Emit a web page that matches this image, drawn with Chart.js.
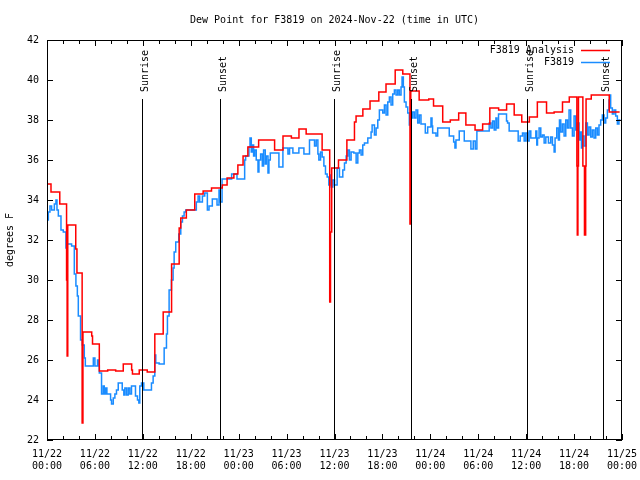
<!DOCTYPE html>
<html>
<head>
<meta charset="utf-8">
<title>Dew Point for F3819</title>
<script src="https://cdn.jsdelivr.net/npm/chart.js@4.4.1/dist/chart.umd.min.js"></script>
<style>
  html, body { margin: 0; padding: 0; background: #fff; }
</style>
</head>
<body>
<canvas id="dewChart" width="640" height="480"></canvas>
<script>
// hours since 2024-11-22 00:00 UTC, dew point in degrees F
const analysisHours = [0, 0.5, 1.6, 2.45, 2.52, 2.6, 3.6, 3.75, 4.4, 4.5,
  5.6, 5.7, 6.55, 7.6, 8.6, 9.55, 10.6, 10.7, 11.55, 12.55,
  13.5, 14.55, 15.6, 16.55, 16.75, 17.45, 18.5, 19.55, 20.6, 21.95,
  22.55, 23.4, 23.9, 24.55, 25.15, 26.5, 28.5, 29.55, 30.6, 31.55,
  32.45, 34.45, 35.4, 35.5, 35.65, 36.5, 37.55, 38.5, 38.7, 39.55,
  40.45, 41.55, 42.45, 43.6, 44.55, 45.45, 45.55, 46.6, 47.8, 48.4,
  49.55, 50.5, 51.55, 52.45, 53.6, 54.55, 55.45, 56.55, 57.55, 58.5,
  59.45, 60.4, 61.4, 62.55, 63.5, 64.55, 65.4, 66.35, 66.4, 66.48,
  66.55, 67.1, 67.3, 67.45, 67.5, 68.15, 70.4, 71.7];
const analysisValues = [34.8, 34.4, 33.8, 30.0, 26.2, 32.75, 31.55, 30.35, 22.85, 27.4,
  27.2, 26.8, 25.45, 25.5, 25.45, 25.8, 25.5, 25.3, 25.5, 25.4,
  27.3, 28.4, 30.8, 32.6, 33.1, 33.5, 34.3, 34.45, 34.6, 34.75,
  35.1, 35.3, 35.75, 36.2, 36.65, 37.0, 36.5, 37.2, 37.1, 37.55,
  37.3, 36.5, 28.9, 32.4, 35.6, 36.0, 37.0, 37.9, 38.2, 38.55,
  38.95, 39.4, 39.8, 40.5, 40.3, 32.8, 39.45, 39.0, 39.05, 38.7,
  37.9, 38.0, 38.35, 37.75, 37.5, 37.8, 38.6, 38.5, 38.8, 38.25,
  37.9, 38.15, 38.9, 38.35, 38.4, 38.9, 39.15, 35.7, 32.25, 35.7,
  39.15, 35.7, 32.25, 35.7, 39.05, 39.25, 38.4, 38.4];

const stationHours = [0, 0.17, 0.37, 0.58, 0.92, 1.12, 1.25, 1.42, 1.75, 2.04,
  2.37, 2.5, 3.08, 3.42, 3.62, 3.8, 3.92, 4.2, 4.42, 4.67,
  4.8, 5.8, 6.0, 6.33, 6.42, 6.55, 6.83, 7.04, 7.17, 7.33,
  7.5, 7.96, 8.08, 8.3, 8.5, 8.7, 8.92, 9.42, 9.62, 9.75,
  9.96, 10.17, 10.37, 10.58, 11.08, 11.33, 11.5, 11.62, 11.83, 12.12,
  13.08, 13.29, 13.5, 13.62, 14.04, 14.67, 14.96, 15.08, 15.29, 15.58,
  15.79, 15.92, 16.12, 16.5, 16.75, 16.96, 17.17, 17.37, 18.7, 18.92,
  19.12, 19.46, 19.75, 20.08, 20.29, 20.7, 21.29, 21.54, 21.67, 21.92,
  23.12, 23.79, 24.75, 24.87, 25.29, 25.42, 25.58, 25.7, 25.87, 26.0,
  26.2, 26.42, 26.54, 26.75, 26.96, 27.12, 27.33, 27.46, 27.67, 27.79,
  27.96, 29.04, 29.54, 30.17, 30.37, 30.79, 31.54, 32.17, 32.87, 33.5,
  33.71, 33.92, 34.04, 34.25, 34.46, 34.67, 34.87, 35.08, 35.29, 35.46,
  35.58, 35.79, 36.0, 36.33, 36.62, 37.04, 37.25, 37.46, 37.67, 37.87,
  38.08, 38.42, 38.71, 38.92, 39.12, 39.33, 39.54, 39.75, 40.17, 40.58,
  40.71, 41.0, 41.21, 41.42, 41.62, 42.04, 42.25, 42.46, 42.67, 42.87,
  43.08, 43.29, 43.5, 43.71, 43.92, 44.12, 44.33, 44.46, 44.62, 44.75,
  44.96, 45.17, 45.37, 45.58, 45.79, 46.0, 46.21, 46.42, 46.62, 46.83,
  47.37, 47.67, 48.08, 48.21, 48.29, 48.71, 48.92, 50.37, 50.92, 51.08,
  51.21, 51.62, 52.25, 53.08, 53.37, 53.62, 53.83, 55.37, 55.58, 55.79,
  56.0, 56.21, 56.33, 56.54, 57.54, 57.67, 57.87, 59.0, 59.25, 59.54,
  59.75, 59.96, 60.17, 60.37, 60.58, 61.21, 61.33, 61.42, 61.62, 61.83,
  62.04, 62.25, 62.46, 62.79, 63.08, 63.29, 63.5, 63.62, 63.83, 64.04,
  64.17, 64.33, 64.54, 64.75, 64.96, 65.17, 65.37, 65.58, 65.79, 66.0,
  66.21, 66.42, 66.62, 66.75, 66.92, 67.04, 67.25, 67.46, 67.67, 67.87,
  68.08, 68.29, 68.5, 68.71, 68.92, 69.12, 69.33, 69.54, 69.75, 69.96,
  70.17, 70.37, 70.5, 70.58, 70.79, 71.0, 71.21, 71.42, 71.62, 71.8];
const stationValues = [33.0, 33.4, 33.7, 33.5, 33.8, 34.0, 33.5, 33.2, 32.5, 32.4,
  31.6, 31.8, 31.7, 30.3, 29.7, 29.2, 28.2, 27.0, 26.75, 26.1,
  25.7, 26.1, 25.7, 26.0, 25.7, 25.35, 24.3, 24.7, 24.3, 24.6,
  24.3, 24.0, 23.8, 24.1, 24.3, 24.5, 24.85, 24.5, 24.25, 24.6,
  24.25, 24.6, 24.3, 24.7, 24.2, 24.0, 23.85, 24.7, 24.85, 24.5,
  24.85, 25.2, 26.25, 25.85, 25.8, 26.6, 27.3, 28.2, 29.5, 30.0,
  30.6, 31.4, 31.9, 32.3, 32.9, 33.2, 33.4, 33.5, 33.9, 34.2,
  33.9, 34.2, 34.35, 33.5, 33.7, 34.05, 33.75, 34.5, 33.9, 35.05,
  35.3, 35.05, 36.0, 36.2, 36.65, 37.1, 36.4, 36.75, 36.2, 36.5,
  36.0, 35.4, 36.0, 36.3, 35.7, 36.5, 35.8, 36.2, 35.35, 36.0,
  36.35, 35.65, 36.6, 36.3, 36.6, 36.35, 36.6, 36.3, 37.0, 36.7,
  37.0, 36.3, 36.0, 36.4, 36.15, 35.7, 35.3, 35.15, 34.75, 35.25,
  34.65, 35.0, 34.75, 35.6, 35.15, 35.5, 35.85, 36.2, 36.5, 36.0,
  36.4, 36.35, 35.85, 36.35, 36.5, 36.25, 36.75, 36.85, 37.1, 37.4,
  37.75, 37.25, 37.6, 38.0, 38.5, 38.35, 38.75, 38.25, 38.9, 39.15,
  38.75, 39.3, 39.5, 39.25, 39.5, 39.25, 39.65, 40.15, 39.65, 38.9,
  38.65, 38.35, 37.75, 38.1, 38.4, 38.1, 38.5, 37.85, 38.25, 37.8,
  37.35, 37.65, 38.1, 37.7, 37.35, 37.2, 37.6, 37.2, 36.9, 36.6,
  37.0, 37.45, 36.95, 36.55, 36.95, 36.55, 37.45, 37.85, 37.6, 37.95,
  37.5, 38.1, 37.6, 38.3, 37.95, 37.85, 37.45, 36.95, 37.2, 37.35,
  36.95, 37.35, 36.95, 37.45, 37.1, 37.45, 36.75, 37.1, 37.6, 37.15,
  37.25, 36.85, 37.15, 36.85, 37.15, 36.75, 36.4, 37.1, 37.6, 37.0,
  38.0, 37.4, 37.8, 37.2, 38.0, 37.6, 38.5, 37.6, 37.2, 38.2,
  37.5, 37.85, 37.0, 37.4, 36.6, 37.2, 36.7, 37.85, 37.25, 37.65,
  37.15, 37.5, 37.1, 37.6, 37.25, 37.75, 38.0, 38.25, 37.85, 38.1,
  38.5, 39.0, 39.25, 38.6, 38.3, 38.5, 38.2, 37.8, 38.0, 38.0];

const sunriseHours = [11.9, 35.94, 60.05];
const sunsetHours = [21.7, 45.58, 69.66];

// tick labels
const dayLabels = ['11/22', '11/23', '11/24', '11/25'];
const hourLabels = ['00:00', '06:00', '12:00', '18:00'];

const FONT = "'DejaVu Sans Mono', 'Liberation Mono', monospace";
const RED = '#ff0000';
const BLUE = '#1a8cff';

window.onload = init;

function init(){
    Chart.defaults.font.family = FONT;
    Chart.defaults.font.size = 10;
    Chart.defaults.color = '#000';

    const toPoints = (hrs, vals) => hrs.map((h, i) => ({x: h, y: vals[i]}));

    // gnuplot-like frame, inward ticks, title, legend, sun lines
    const decorations = {
        id: 'decorations',
        afterDatasetsDraw(chart){
            const ctx = chart.ctx;
            const a = chart.chartArea;
            const xs = chart.scales.x, ys = chart.scales.y;
            ctx.save();
            ctx.strokeStyle = '#000';
            ctx.lineWidth = 1;

            // sunrise / sunset markers
            ctx.font = '10px ' + FONT;
            ctx.fillStyle = '#000';
            const marker = (h, txt) => {
                const px = Math.round(xs.getPixelForValue(h)) + 0.5;
                ctx.beginPath();
                ctx.moveTo(px, a.top + 59);
                ctx.lineTo(px, a.bottom);
                ctx.stroke();
                ctx.save();
                ctx.translate(px + 2.5, a.top + 52);
                ctx.rotate(-Math.PI / 2);
                ctx.textAlign = 'left';
                ctx.textBaseline = 'middle';
                ctx.fillText(txt, 0, 0);
                ctx.restore();
            };
            sunriseHours.forEach(h => marker(h, 'Sunrise'));
            sunsetHours.forEach(h => marker(h, 'Sunset'));

            // frame
            ctx.strokeRect(a.left + 0.5, a.top + 0.5, a.width - 1, a.height - 1);

            // x ticks every 2 h, longer every 6 h, top and bottom
            ctx.beginPath();
            for (let h = 0; h <= 72; h += 2){
                const px = Math.round(xs.getPixelForValue(h)) + 0.5;
                const len = (h % 6 === 0) ? 6 : 4;
                ctx.moveTo(px, a.bottom); ctx.lineTo(px, a.bottom - len);
                ctx.moveTo(px, a.top); ctx.lineTo(px, a.top + len);
            }
            // y ticks, left and right
            for (let v = 22; v <= 42; v += 2){
                const py = Math.round(ys.getPixelForValue(v)) + 0.5;
                ctx.moveTo(a.left, py); ctx.lineTo(a.left + 6, py);
                ctx.moveTo(a.right, py); ctx.lineTo(a.right - 6, py);
            }
            ctx.stroke();

            // legend, top right inside the frame
            ctx.textAlign = 'right';
            ctx.textBaseline = 'middle';
            chart.data.datasets.forEach((ds, i) => {
                const ly = a.top + 10 + i * 12;
                ctx.fillStyle = '#000';
                ctx.fillText(ds.label, a.right - 48, ly);
                ctx.strokeStyle = ds.borderColor;
                ctx.lineWidth = 1.5;
                ctx.beginPath();
                ctx.moveTo(a.right - 41, ly + 0.5);
                ctx.lineTo(a.right - 12, ly + 0.5);
                ctx.stroke();
            });

            // title
            ctx.fillStyle = '#000';
            ctx.textAlign = 'center';
            ctx.fillText('Dew Point for F3819 on 2024-Nov-22 (time in UTC)', (a.left + a.right) / 2, 20);
            ctx.restore();
        }
    };

    const config = {
        type: 'line',
        data: {
            datasets: [{
                label: 'F3819 Analysis',
                data: toPoints(analysisHours, analysisValues),
                borderColor: RED,
                borderWidth: 1.5,
                stepped: 'before',
                pointRadius: 0,
                fill: false,
                order: 0
            }, {
                label: 'F3819',
                data: toPoints(stationHours, stationValues),
                borderColor: BLUE,
                borderWidth: 1.5,
                stepped: 'before',
                pointRadius: 0,
                fill: false,
                order: 1
            }]
        },
        options: {
            responsive: false,
            animation: false,
            layout: { padding: { top: 40, right: 18, left: 0, bottom: 0 } },
            plugins: {
                legend: { display: false },
                tooltip: { enabled: false },
                title: { display: false }
            },
            scales: {
                x: {
                    type: 'linear',
                    min: 0,
                    max: 72,
                    grid: { display: false, drawTicks: false },
                    border: { display: false },
                    ticks: {
                        stepSize: 6,
                        autoSkip: false,
                        maxRotation: 0,
                        padding: 8,
                        callback: v => [dayLabels[Math.floor(v / 24)], hourLabels[(v % 24) / 6]]
                    },
                    // labels may hang over the edges, like gnuplot does
                    afterFit: s => { s.height = 40; s.paddingLeft = 0; s.paddingRight = 0; }
                },
                y: {
                    min: 22,
                    max: 42,
                    grid: { display: false, drawTicks: false },
                    border: { display: false },
                    ticks: { stepSize: 2, padding: 8 },
                    title: { display: true, text: 'degrees F', padding: { top: 4, bottom: 0 } },
                    afterFit: s => { s.width = 47; s.paddingTop = 0; s.paddingBottom = 0; }
                }
            }
        },
        plugins: [decorations]
    };

    new Chart(document.getElementById('dewChart'), config);
}
</script>
</body>
</html>
